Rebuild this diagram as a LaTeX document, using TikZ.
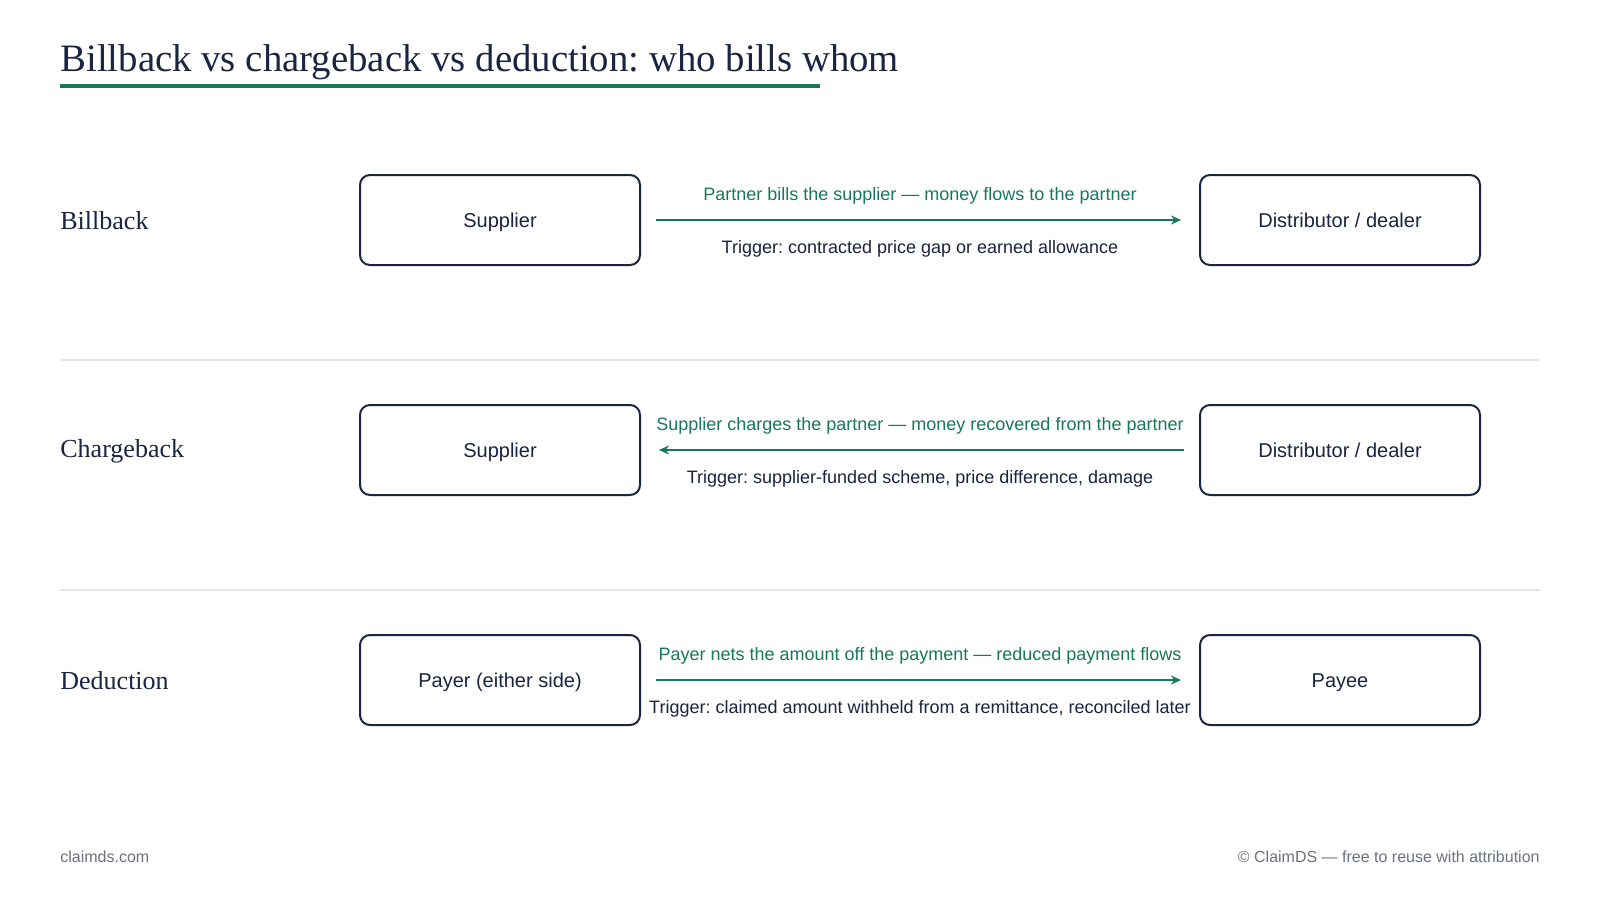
\documentclass[tikz,border=0pt]{standalone}
\usepackage{fontspec}
\setmainfont{Liberation Serif}
\newfontfamily\sansf{Liberation Sans}
\usetikzlibrary{arrows.meta}
\definecolor{navy}{HTML}{1B2440}
\definecolor{grn}{HTML}{17785C}
\definecolor{sep}{HTML}{E1E4E8}
\definecolor{foot}{HTML}{6B7280}
\frenchspacing
\tikzset{
  party/.style={draw=navy, line width=1pt, rounded corners=5pt, minimum width=140pt, minimum height=45pt, inner sep=0pt, text height=7.2pt, text depth=0pt, font=\sansf\fontsize{10}{12}\selectfont, text=navy},
  rowlabel/.style={anchor=west, inner sep=0pt, font=\fontsize{13}{15}\selectfont, text=navy},
  flow/.style={draw=grn, line width=1pt, -{Stealth[length=5pt,width=4.5pt]}},
  flowlabel/.style={anchor=base, inner sep=0pt, font=\sansf\fontsize{9}{11}\selectfont, text=grn},
  trig/.style={anchor=base, inner sep=0pt, font=\sansf\fontsize{9}{11}\selectfont, text=navy},
  sepline/.style={draw=sep, line width=0.6pt},
  footer/.style={inner sep=0pt, font=\sansf\fontsize{8}{10}\selectfont, text=foot}
}
\begin{document}
\frenchspacing
\begin{tikzpicture}[x=0.5pt,y=-0.5pt]
\useasboundingbox[fill=white] (0,0) rectangle (1600,900);
% title
\node[anchor=base west, inner sep=0pt, font=\fontsize{19.4}{22}\selectfont, text=navy] (title) at (60,71.5) {Billback vs chargeback vs deduction: who bills whom};
\draw[grn, line width=2pt] (60,86) -- (820,86);
% separators
\draw[sepline] (60,360) -- (1540,360);
\draw[sepline] (60,590) -- (1540,590);
% row 1
\node[rowlabel] (l1) at (60,221) {Billback};
\node[party] (s1) at (500,220) {Supplier};
\node[party] (d1) at (1340,220) {Distributor / dealer};
\coordinate (a1s) at (656,220);
\coordinate (a1e) at (1181,220);
\draw[flow] (a1s) -- (a1e);
\node[flowlabel] (f1) at (920,200) {Partner bills the supplier — money flows to the partner};
\node[trig] (t1) at (920,253.5) {Trigger: contracted price gap or earned allowance};
% row 2
\node[rowlabel] (l2) at (60,451) {Chargeback};
\node[party] (s2) at (500,450) {Supplier};
\node[party] (d2) at (1340,450) {Distributor / dealer};
\coordinate (a2s) at (1184,450);
\coordinate (a2e) at (659,450);
\draw[flow] (a2s) -- (a2e);
\node[flowlabel] (f2) at (920,430) {Supplier charges the partner — money recovered from the partner};
\node[trig] (t2) at (920,483.5) {Trigger: supplier-funded scheme, price difference, damage};
% row 3
\node[rowlabel] (l3) at (60,681) {Deduction};
\node[party] (s3) at (500,680) {Payer (either side)};
\node[party] (d3) at (1340,680) {Payee};
\coordinate (a3s) at (656,680);
\coordinate (a3e) at (1181,680);
\draw[flow] (a3s) -- (a3e);
\node[flowlabel] (f3) at (920,660) {Payer nets the amount off the payment — reduced payment flows};
\node[trig] (t3) at (920,713.5) {Trigger: claimed amount withheld from a remittance, reconciled later};
% footer
\node[footer, anchor=west] (fl) at (60,857) {claimds.com};
\node[footer, anchor=east] (fr) at (1540,857) {© ClaimDS — free to reuse with attribution};
\end{tikzpicture}
\end{document}
